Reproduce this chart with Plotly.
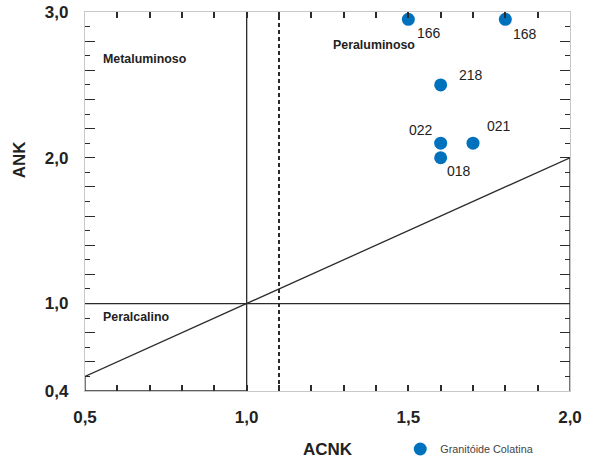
import numpy as np
import plotly.graph_objects as go

# Samples of the Granitóide Colatina (A/CNK vs A/NK)
sample_ids = ["166", "168", "218", "022", "021", "018"]
acnk = [1.50, 1.80, 1.60, 1.60, 1.70, 1.60]
ank = [2.95, 2.95, 2.50, 2.10, 2.10, 2.00]

# Label offsets (px) for each sample id
label_dx = [21, 20, 30, -20, 26, 18]
label_dy = [-14, -15, 10, 13, 17, -13]

# Shand diagram boundaries
diag_x = [0.5, 2.0]
diag_y = [0.5, 2.0]
acnk_one_x = [1.0, 1.0]
acnk_one_y = [0.4, 3.0]
acnk_dash_x = [1.1, 1.1]
acnk_dash_y = [0.4, 3.0]
ank_one_x = [0.5, 2.0]
ank_one_y = [1.0, 1.0]
right_edge_x = [2.0, 2.0]
right_edge_y = [0.4, 2.0]
peralk_edge_x = [1.0, 0.5, 0.5]
peralk_edge_y = [0.4, 0.4, 0.5]

# Axis ranges and ticks
x_range = [0.5, 2.0]
y_range = [0.4, 3.0]
x_tick_vals = [0.5, 0.6, 0.7, 0.8, 0.9, 1.0, 1.1, 1.2, 1.3, 1.4, 1.5, 1.6, 1.7, 1.8, 1.9, 2.0]
x_label_vals = [0.5, 1.0, 1.5, 2.0]
x_label_text = ["0,5", "1,0", "1,5", "2,0"]
y_tick_vals = [0.4, 0.6, 0.8, 1.0, 1.2, 1.4, 1.6, 1.8, 2.0, 2.2, 2.4, 2.6, 2.8, 3.0]
y_minor_vals = [0.5, 0.7, 0.9, 1.1, 1.3, 1.5, 1.7, 1.9, 2.1, 2.3, 2.5, 2.7, 2.9]
y_label_vals = [0.4, 1.0, 2.0, 3.0]
y_label_text = ["0,4", "1,0", "2,0", "3,0"]

LINE = "#2b2b2b"
FRAME = "#c8c8c8"
BLUE = "#0072BD"
FONT = "Liberation Sans, Arial"

fig = go.Figure()

def boundary(xs, ys, dash="solid", width=1.3, xaxis="x", yaxis="y"):
    fig.add_trace(go.Scatter(x=xs, y=ys, mode="lines", showlegend=False,
                             hoverinfo="skip", cliponaxis=False,
                             xaxis=xaxis, yaxis=yaxis,
                             line=dict(color=LINE, width=width, dash=dash)))

# the diagonal lives on the tick-carrying overlay axes (same ranges)
boundary(diag_x, diag_y, xaxis="x2", yaxis="y2")
boundary(acnk_one_x, acnk_one_y)
boundary(ank_one_x, ank_one_y)
boundary(acnk_dash_x, acnk_dash_y, dash="4px,3px", width=2)
boundary(right_edge_x, right_edge_y)
boundary(peralk_edge_x, peralk_edge_y)

fig.add_trace(go.Scatter(
    x=acnk, y=ank, mode="markers", name="Granitóide Colatina",
    marker=dict(color=BLUE, size=13, line=dict(width=0)),
    cliponaxis=False,
))

for sid, xv, yv, dx, dy in zip(sample_ids, acnk, ank, label_dx, label_dy):
    fig.add_annotation(x=xv, y=yv, text=sid, showarrow=False,
                       xshift=dx, yshift=dy,
                       font=dict(family=FONT, size=14, color="#222"))

region_font = dict(family=FONT, size=12.4, color="#222")
fig.add_annotation(x=0.548, y=2.678, text="<b>Metaluminoso</b>", showarrow=False,
                   xanchor="left", yanchor="middle", font=region_font)
fig.add_annotation(x=1.261, y=2.774, text="<b>Peraluminoso</b>", showarrow=False,
                   xanchor="left", yanchor="middle", font=region_font)
fig.add_annotation(x=0.550, y=0.908, text="<b>Peralcalino</b>", showarrow=False,
                   xanchor="left", yanchor="middle", font=region_font)

# Y axis title placed as rotated text
fig.add_annotation(xref="paper", yref="paper", x=-0.135, y=0.61, text="<b>ANK</b>",
                   textangle=-90, showarrow=False, xanchor="center", yanchor="middle",
                   font=dict(family=FONT, size=17, color="#222"))

tick_font = dict(family=FONT, size=17, color="#222")

fig.update_layout(
    # primary axes: frame and tick labels
    xaxis=dict(
        range=x_range, showgrid=False, zeroline=False,
        tickmode="array", tickvals=x_label_vals,
        ticktext=[f"<b>{t}</b>" for t in x_label_text],
        ticks="", showline=True, linecolor=FRAME, linewidth=1.3, mirror=True,
        tickfont=tick_font, ticklabelstandoff=10,
        title=dict(text="<b>ACNK</b>", font=dict(family=FONT, size=17, color="#222"),
                   standoff=17),
    ),
    yaxis=dict(
        range=y_range, showgrid=False, zeroline=False,
        tickmode="array", tickvals=y_label_vals,
        ticktext=[f"<b>{t}</b>" for t in y_label_text],
        ticks="", showline=True, linecolor=FRAME, linewidth=1.3, mirror=True,
        tickfont=tick_font, ticklabelstandoff=12,
    ),
    # overlay axes: inward tick marks on all four sides
    xaxis2=dict(
        range=x_range, overlaying="x", anchor="y2", side="bottom",
        showgrid=False, zeroline=False, showline=False, showticklabels=False,
        tickmode="array", tickvals=x_tick_vals,
        ticks="inside", ticklen=6, tickwidth=1.5, tickcolor=LINE, mirror="ticks",
    ),
    yaxis2=dict(
        range=y_range, overlaying="y", anchor="x2", side="left",
        showgrid=False, zeroline=False, showline=False, showticklabels=False,
        tickmode="array", tickvals=y_tick_vals,
        ticks="inside", ticklen=10, tickwidth=1.3, tickcolor=LINE, mirror="ticks",
        minor=dict(tickmode="array", tickvals=y_minor_vals, ticks="inside",
                   ticklen=5, tickwidth=1.3, tickcolor=LINE, showgrid=False),
    ),
    width=597, height=461,
    margin=dict(l=85, r=27, t=12, b=70, autoexpand=False),
    paper_bgcolor="white", plot_bgcolor="white",
    showlegend=True,
    legend=dict(x=0.65, y=-0.153, xanchor="left", yanchor="middle",
                orientation="h", bgcolor="rgba(0,0,0,0)", itemwidth=30,
                font=dict(family=FONT, size=10.8, color="#444")),
)

fig.write_html("out.html")
